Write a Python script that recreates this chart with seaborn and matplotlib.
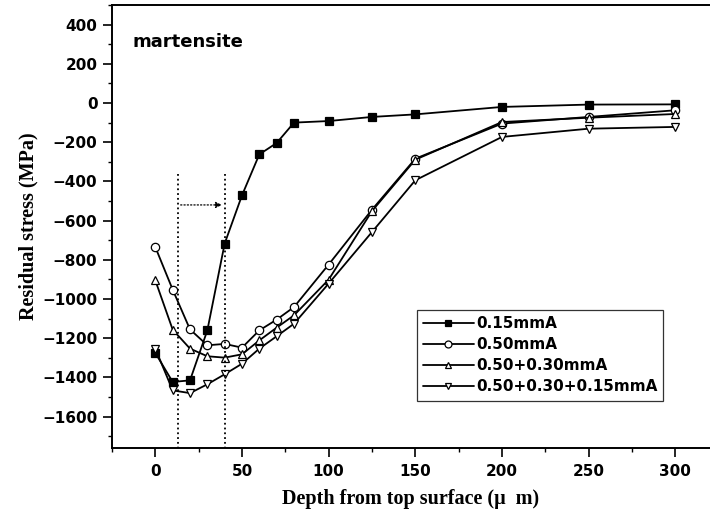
import numpy as np
import pandas as pd
import matplotlib
matplotlib.use("Agg")
import matplotlib.pyplot as plt
from matplotlib.ticker import MultipleLocator
import seaborn as sns

# depth (um) where stress was measured
depth = [0, 10, 20, 30, 40, 50, 60, 70, 80, 100, 125, 150, 200, 250, 300]

# residual stress (MPa)
s_015 = [-1275, -1423, -1415, -1160, -717, -471, -262, -204, -100, -92, -71, -58, -20, -8, -7]
s_050 = [-735, -952, -1155, -1236, -1229, -1248, -1160, -1105, -1041, -824, -544, -284, -105, -71, -37]
s_050_030 = [-905, -1156, -1253, -1292, -1299, -1282, -1211, -1146, -1083, -901, -551, -289, -97, -75, -56]
s_050_030_015 = [-1253, -1466, -1480, -1435, -1384, -1330, -1253, -1190, -1126, -921, -658, -394, -173, -131, -122]

labels = ["0.15mmA", "0.50mmA", "0.50+0.30mmA", "0.50+0.30+0.15mmA"]
markers = ["s", "o", "^", "v"]
facecolors = ["black", "white", "white", "white"]

# dotted guide lines and arrow
guide_depths = [13, 40]
guide_top = -360
arrow_y = -520

sns.set_style("ticks")
plt.rcParams["font.family"] = ["DejaVu Sans"]
plt.rcParams.update({"text.color": "black", "axes.labelcolor": "black",
                     "xtick.color": "black", "ytick.color": "black",
                     "axes.edgecolor": "black"})
serif = ["Liberation Serif", "DejaVu Serif"]

fig = plt.figure(figsize=(7.1, 5.21), dpi=100)
ax = fig.add_axes([112 / 710, 1 - 448 / 521, 1 - 112 / 710, (448 - 5) / 521])

series = [s_015, s_050, s_050_030, s_050_030_015]
for vals, lab, mk, fc in zip(series, labels, markers, facecolors):
    df = pd.DataFrame({"depth": depth, "stress": vals})
    sns.lineplot(data=df, x="depth", y="stress", ax=ax, color="black", lw=1.3,
                 marker=mk, markersize=6, markerfacecolor=fc,
                 markeredgecolor="black", markeredgewidth=0.9, label=lab)

for d in guide_depths:
    ax.plot([d, d], [guide_top, -1760], ls=":", color="black", lw=1.3)
ax.annotate("", xy=(guide_depths[1], arrow_y), xytext=(guide_depths[0], arrow_y),
            arrowprops=dict(arrowstyle="-|>", ls=":", color="black", lw=0.9,
                            mutation_scale=9))

ax.set_xlim(-25, 320)
ax.xaxis.set_major_locator(MultipleLocator(50))
ax.xaxis.set_minor_locator(MultipleLocator(25))
ax.yaxis.set_minor_locator(MultipleLocator(100))
ax.set_yticks(np.arange(-1600, 401, 200))
ax.set_ylim(-1760, 500)

ax.tick_params(which="major", direction="out", length=6.5, width=1.2, labelsize=11)
ax.tick_params(axis="x", which="major", pad=5)
ax.tick_params(axis="y", which="major", pad=4)
ax.tick_params(which="minor", direction="out", length=3, width=1.0)
for t in ax.get_xticklabels() + ax.get_yticklabels():
    t.set_fontweight("bold")

for sp in ["left", "bottom", "top"]:
    ax.spines[sp].set_linewidth(1.4)
ax.spines["right"].set_visible(False)

ax.set_xlabel("Depth from top surface (\u03bc  m)", family=serif,
              fontweight="bold", fontsize=14.5)
ax.set_ylabel("Residual stress (MPa)", family=serif,
              fontweight="bold", fontsize=14.5)
ax.xaxis.set_label_coords(0.5, -0.0925)
ax.yaxis.set_label_coords(-0.123, 0.5)

ax.text(-13, 310, "martensite", fontsize=13, fontweight="bold", va="center")

leg = ax.legend(loc="upper left", bbox_to_anchor=(417 / 710, 1 - 310 / 521),
                bbox_transform=fig.transFigure, frameon=True, fancybox=False,
                edgecolor="black", handlelength=3.3, handletextpad=0.15,
                labelspacing=0.4, borderpad=0.4, borderaxespad=0,
                prop={"weight": "bold", "size": 11})
leg.get_frame().set_linewidth(0.9)
for h in leg.legend_handles:
    h.set_markersize(5)

fig.savefig("out.png", dpi=100)
